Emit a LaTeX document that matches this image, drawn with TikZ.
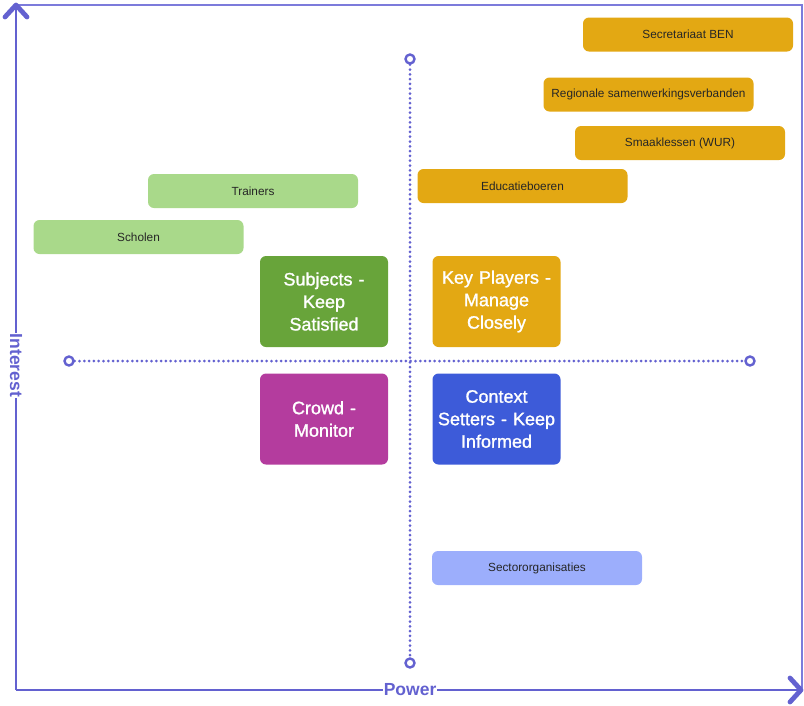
\documentclass[tikz,border=0pt]{standalone}
\usepackage{fontspec}
\setmainfont{Liberation Sans}
\newfontfamily\medfont[FakeBold=1.3]{Liberation Sans}
\definecolor{axiscol}{HTML}{6361D0}
\definecolor{framecol}{HTML}{7C7BDB}
\definecolor{orangebox}{HTML}{E3A813}
\definecolor{lgreen}{HTML}{A9D98A}
\definecolor{dgreen}{HTML}{68A43A}
\definecolor{magbox}{HTML}{B43C9E}
\definecolor{bluebox}{HTML}{3D5BD9}
\definecolor{lblue}{HTML}{9CAEFC}
\tikzset{
  smallbox/.style={rounded corners=6pt, minimum width=210pt, minimum height=34pt, inner sep=0pt,
    font=\fontsize{11.8}{13}\selectfont, text=black!85},
  quadbox/.style={rounded corners=6pt, minimum width=128pt, minimum height=91pt, inner sep=0pt,
    text=white, font=\medfont\fontsize{18}{22.5}\selectfont, align=center, text width=128pt},
  endc/.style={circle, draw=axiscol, fill=white, line width=2.4pt, minimum size=9pt, inner sep=0pt},
  dotline/.style={draw=axiscol, line width=3pt, line cap=round, dash pattern=on 0pt off 4.8pt},
  axisline/.style={draw=axiscol, line width=2.5pt},
  frameline/.style={draw=framecol, line width=2pt},
  axislabel/.style={fill=white, text=axiscol, font=\bfseries\fontsize{17.5}{19}\selectfont, inner sep=1pt},
  chevron/.style={draw=axiscol, line width=4.8pt, line cap=round, line join=round}
}
\begin{document}
\begin{tikzpicture}[x=1pt,y=-1pt]
\useasboundingbox (0,0) rectangle (804,705);
% axes and frame
\coordinate (org) at (16,690);
\coordinate (ytop) at (16,5);
\coordinate (xend) at (801,690);
\coordinate (trc) at (802,5);
\draw[frameline] (ytop) -- (trc) -- (802,688);
\draw[axisline] (org) -- node[axislabel, rotate=-90, pos=0.474] (ilab) {Interest} (ytop);
\draw[axisline] (org) -- node[axislabel, pos=0.502] (plab) {Power} (xend);
\draw[chevron] (5,17) -- (ytop) -- (27,17);
\draw[chevron] (790,678) -- (xend) -- (790,702);
% quadrant lines
\node[endc] (vt) at (410,59) {};
\node[endc] (vb) at (410,663) {};
\node[endc] (hl) at (69,361) {};
\node[endc] (hr) at (750,361) {};
\draw[dotline] (vt) -- (vb);
\draw[dotline] (hl) -- (hr);
% quadrant boxes
\node[quadbox, fill=dgreen] (subj) at (324,301.5) {Subjects -\\Keep\\Satisfied};
\node[quadbox, fill=orangebox] (key) at (496.5,301.5) {Key Players -\\Manage\\Closely};
\node[quadbox, fill=magbox] (crowd) at (324,419) {Crowd -\\Monitor};
\node[quadbox, fill=bluebox] (ctx) at (496.5,419) {Context\\Setters - Keep\\Informed};
% stakeholders
\node[smallbox, fill=orangebox] (sec) at (688,34.5) {Secretariaat BEN};
\node[smallbox, fill=orangebox] (reg) at (648.5,94.5) {Regionale samenwerkingsverbanden};
\node[smallbox, fill=orangebox] (sma) at (680,143) {Smaaklessen (WUR)};
\node[smallbox, fill=orangebox] (edu) at (522.5,186) {Educatieboeren};
\node[smallbox, fill=lgreen] (tra) at (253,191) {Trainers};
\node[smallbox, fill=lgreen] (sch) at (138.5,237) {Scholen};
\node[smallbox, fill=lblue] (sect) at (537,568) {Sectororganisaties};
\end{tikzpicture}
\end{document}
